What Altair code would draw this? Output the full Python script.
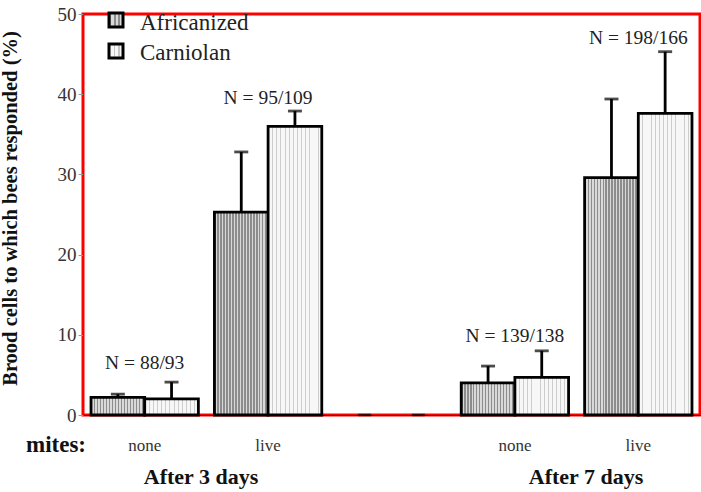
import altair as alt
import pandas as pd

# Treatment groups along the x axis (the middle slot is an empty spacer)
groups = ["d3_none", "d3_live", "gap", "d7_none", "d7_live"]
group_labels = ["none", "live", "", "none", "live"]
races = ["Africanized", "Carniolan"]

# Mean % of brood cells responded to, and upper error (SD) per race
resp_africanized = [2.2, 25.3, 0.0, 4.0, 29.6]
resp_carniolan = [2.0, 36.0, 0.0, 4.7, 37.6]
err_africanized = [0.4, 7.5, 0.0, 2.1, 9.8]
err_carniolan = [2.1, 1.9, 0.0, 3.3, 7.7]

# Sample sizes shown above each treatment pair, and their label heights
n_labels = ["N = 88/93", "N = 95/109", "", "N = 139/138", "N = 198/166"]
n_label_y = [5.7, 38.8, 0.0, 9.1, 46.3]

FONT = "Liberation Serif"

rows = []
for i, g in enumerate(groups):
    for race, vals, errs in ((races[0], resp_africanized, err_africanized),
                             (races[1], resp_carniolan, err_carniolan)):
        rows.append({"group": g, "race": race, "value": vals[i],
                     "upper": vals[i] + errs[i]})
df = pd.DataFrame(rows)
bars_df = df[df.group != "gap"]
gap_df = df[df.group == "gap"]

labels_df = pd.DataFrame({"group": groups, "label": n_labels, "ypos": n_label_y})
labels_df = labels_df[labels_df.label != ""]


def stripes(n, dark, light, frac):
    """Hard-edged vertical stripes built from a horizontal linear gradient."""
    stops = []
    for k in range(n):
        a = k / n
        b = (k + frac) / n
        c = (k + 1) / n
        stops += [alt.GradientStop(color=dark, offset=a),
                  alt.GradientStop(color=dark, offset=b),
                  alt.GradientStop(color=light, offset=b),
                  alt.GradientStop(color=light, offset=c)]
    return alt.Gradient(gradient="linear", x1=0, x2=1, y1=0, y2=0, stops=stops)


fill_afr = stripes(18, "#8c8c8c", "#d9d9d9", 0.45)
fill_car = stripes(13, "#cdcdcd", "#f7f7f7", 0.22)
legend_afr = stripes(3, "#8c8c8c", "#d9d9d9", 0.45)
legend_car = stripes(3, "#c4c4c4", "#f7f7f7", 0.3)

label_expr = " : ".join(
    f"datum.value == '{g}' ? '{l}'" for g, l in zip(groups, group_labels)
) + " : ''"

x_enc = alt.X(
    "group:N", sort=groups,
    scale=alt.Scale(domain=groups, paddingInner=0.13, paddingOuter=0.065),
    axis=alt.Axis(title=None, ticks=False, labelAngle=0, labelExpr=label_expr,
                  labelFont=FONT, labelFontSize=17, labelColor="#333",
                  labelPadding=22, domainColor="blue", domainWidth=1),
)
xoff = alt.XOffset("race:N", sort=races,
                   scale=alt.Scale(domain=races, paddingInner=0, paddingOuter=0))
y_enc = alt.Y(
    "value:Q", scale=alt.Scale(domain=[0, 50], nice=False),
    axis=alt.Axis(title="Brood cells to which bees responded (%)",
                  values=[0, 10, 20, 30, 40, 50], grid=False,
                  labelFont=FONT, labelFontSize=19, labelColor="#333",
                  labelPadding=2, tickSize=5, tickColor="#999999",
                  domainColor="green",
                  titleFont=FONT, titleFontSize=20.5, titleFontWeight="bold",
                  titleColor="#111", titleAngle=270, titleX=-73, titleY=194,
                  titleAlign="center", titleBaseline="middle"),
)

base = alt.Chart(bars_df)

bars_afr = base.transform_filter(alt.datum.race == races[0]).mark_bar(
    fill=fill_afr, stroke="#000", strokeWidth=2.8
).encode(x=x_enc, xOffset=xoff, y=y_enc)

bars_car = base.transform_filter(alt.datum.race == races[1]).mark_bar(
    fill=fill_car, stroke="#000", strokeWidth=2.8
).encode(x=x_enc, xOffset=xoff, y=y_enc)

err_rule = base.mark_rule(color="#000", strokeWidth=2.8).encode(
    x=x_enc, xOffset=xoff, y="value:Q", y2="upper:Q"
)
err_cap = base.mark_tick(color="#000", thickness=2.8, size=14).encode(
    x=x_enc, xOffset=xoff, y="upper:Q"
)

gap_ticks = alt.Chart(gap_df).mark_tick(color="#000", thickness=2.5, size=13).encode(
    x=x_enc, xOffset=xoff, y="value:Q"
)

n_text = alt.Chart(labels_df).mark_text(
    font=FONT, fontSize=19.5, color="#222", baseline="alphabetic"
).encode(x=x_enc, y="ypos:Q", text="label:N")

# Hand-drawn legend with patterned swatches
one = pd.DataFrame({"k": [0]})
leg_afr_box = alt.Chart(one).mark_rect(fill=legend_afr, stroke="#000", strokeWidth=3).encode(
    x=alt.value(26), x2=alt.value(40), y=alt.value(-1), y2=alt.value(13))
leg_car_box = alt.Chart(one).mark_rect(fill=legend_car, stroke="#000", strokeWidth=3).encode(
    x=alt.value(26), x2=alt.value(40), y=alt.value(30), y2=alt.value(44))
leg_afr_txt = alt.Chart(one).mark_text(
    text="Africanized", font=FONT, fontSize=23, color="#222", align="left", baseline="middle"
).encode(x=alt.value(57), y=alt.value(9))
leg_car_txt = alt.Chart(one).mark_text(
    text="Carniolan", font=FONT, fontSize=23, color="#222", align="left", baseline="middle"
).encode(x=alt.value(57), y=alt.value(39))

# Row and group captions below the axis
mites_txt = alt.Chart(one).mark_text(
    text="mites:", font=FONT, fontSize=23, fontWeight="bold", color="#111", baseline="middle"
).encode(x=alt.value(-27), y=alt.value(431))
day3_txt = alt.Chart(one).mark_text(
    text="After 3 days", font=FONT, fontSize=22, fontWeight="bold", color="#111", baseline="middle"
).encode(x=alt.value(118), y=alt.value(463))
day7_txt = alt.Chart(one).mark_text(
    text="After 7 days", font=FONT, fontSize=22, fontWeight="bold", color="#111", baseline="middle"
).encode(x=alt.value(503), y=alt.value(463))

chart = alt.layer(
    bars_afr, bars_car, err_rule, err_cap, gap_ticks, n_text,
    leg_afr_box, leg_car_box, leg_afr_txt, leg_car_txt,
    mites_txt, day3_txt, day7_txt,
).properties(
    width=617, height=401,
    autosize=alt.AutoSizeParams(type="none"),
    padding={"left": 83, "top": 14, "right": 1, "bottom": 77},
).configure_view(stroke="red", strokeWidth=3).configure_axis(grid=False)

chart.save("out.html", embed_options={"renderer": "svg", "actions": False})
